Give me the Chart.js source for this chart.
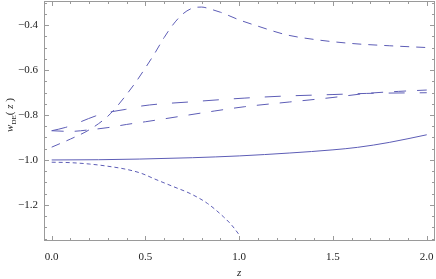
<!DOCTYPE html>
<html>
<head>
<meta charset="utf-8">
<script src="https://cdn.jsdelivr.net/npm/chart.js@4.4.1/dist/chart.umd.min.js"></script>
<style>
  html, body { margin: 0; padding: 0; background: #fff; }
  #wrap { width: 436px; height: 279px; position: relative; }
</style>
</head>
<body>
<div id="wrap"><canvas id="chart"></canvas></div>
<script>
// tick labels
var xTickVals = [0, 0.5, 1, 1.5, 2];
var yTickVals = [-1.2, -1.0, -0.8, -0.6, -0.4];

// solid curve
var zSolid = [0, 0.25, 0.47, 0.75, 1.0, 1.27, 1.5, 1.63, 1.8, 2.0];
var wSolid = [-1.0, -0.999, -0.996, -0.99, -0.982, -0.969, -0.955, -0.944, -0.922, -0.888];

// fine dashes, falling
var zFall = [0, 0.1, 0.2, 0.3, 0.4, 0.48, 0.55, 0.65, 0.74, 0.83, 0.915, 0.96, 1.0];
var wFall = [-1.010, -1.012, -1.018, -1.028, -1.042, -1.060, -1.085, -1.119, -1.150, -1.193, -1.252, -1.29, -1.333];

// medium dashes, with the bump
var zBump = [0, 0.1, 0.2, 0.3, 0.35, 0.4, 0.45, 0.5, 0.55, 0.6, 0.65, 0.7, 0.75, 0.8, 0.85, 0.9, 1.0, 1.1, 1.25, 1.4, 1.6, 1.8, 2.0];
var wBump = [-0.943, -0.907, -0.866, -0.805, -0.76, -0.708, -0.652, -0.59, -0.525, -0.455, -0.395, -0.35, -0.325, -0.32, -0.33, -0.343, -0.377, -0.405, -0.443, -0.464, -0.482, -0.492, -0.50];

// long dashes, upper early
var zLongA = [0, 0.075, 0.155, 0.235, 0.323, 0.395, 0.48, 0.75, 1.026, 1.235, 1.5, 1.68, 2.0];
var wLongA = [-0.870, -0.855, -0.830, -0.804, -0.785, -0.775, -0.76, -0.741, -0.725, -0.716, -0.709, -0.704, -0.701];

// long dashes, lower early
var zLongB = [0, 0.1, 0.2, 0.3, 0.4, 0.5, 0.7, 0.87, 1.03, 1.27, 1.5, 1.68, 1.85, 2.0];
var wLongB = [-0.870, -0.873, -0.866, -0.856, -0.842, -0.830, -0.804, -0.782, -0.763, -0.742, -0.722, -0.704, -0.695, -0.689];

var lineColor = "#5d5db6";
var frameColor = "#9a9a9a";
var textColor = "#222";
var serif = "Liberation Serif, Times New Roman, serif";

Chart.defaults.font.family = serif;

function pts(zs, ws){
  return zs.map(function (z, i) { return { x: z, y: ws[i] }; });
}

function series(zs, ws, dash){
  return {
    data: pts(zs, ws),
    borderColor: lineColor,
    borderWidth: 1,
    borderDash: dash,
    pointRadius: 0,
    fill: false,
    cubicInterpolationMode: "monotone"
  };
}

function fmt(v){
  return v.toFixed(1).replace("-", "\u2212");
}

// frame with inward ticks on all four sides, plus axis titles
var framePlugin = {
  id: "frameTicks",
  afterDraw: function (chart) {
    var ctx = chart.ctx;
    var a = chart.chartArea;
    var xs = chart.scales.x;
    var ys = chart.scales.y;
    var L = Math.round(a.left) + 0.5, R = Math.round(a.right) - 0.5;
    var T = Math.round(a.top) + 0.5, B = Math.round(a.bottom) + 0.5;

    ctx.save();
    ctx.strokeStyle = frameColor;
    ctx.lineWidth = 1;
    ctx.strokeRect(L, T, R - L, B - T);

    ctx.beginPath();
    var i, v, p, len;
    for (i = 0; i <= 20; i++) {
      v = i / 10;
      p = Math.round(xs.getPixelForValue(v)) + 0.5;
      len = (i % 5 === 0) ? 4.5 : 2.5;
      ctx.moveTo(p, B); ctx.lineTo(p, B - len);
      ctx.moveTo(p, T); ctx.lineTo(p, T + len);
    }
    for (i = -27; i <= -6; i++) {
      v = i * 0.05;
      p = Math.round(ys.getPixelForValue(v)) + 0.5;
      len = (i % 4 === 0) ? 4.5 : 2.5;
      ctx.moveTo(L, p); ctx.lineTo(L + len, p);
      ctx.moveTo(R, p); ctx.lineTo(R - len, p);
    }
    ctx.stroke();

    // x title
    ctx.fillStyle = textColor;
    ctx.font = "italic 11px " + serif;
    ctx.textAlign = "center";
    ctx.textBaseline = "middle";
    ctx.fillText("z", xs.getPixelForValue(1), 273);

    // y title: w_DE( z ), rotated
    ctx.translate(9, 115);
    ctx.rotate(-Math.PI / 2);
    ctx.textAlign = "left";
    ctx.textBaseline = "alphabetic";
    var parts = [
      { t: "w", f: "italic 11px " + serif, dy: 0 },
      { t: "DE", f: "7px " + serif, dy: 2.5 },
      { t: "( ", f: "11px " + serif, dy: 0 },
      { t: "z", f: "italic 11px " + serif, dy: 0 },
      { t: " )", f: "11px " + serif, dy: 0 }
    ];
    var total = 0;
    parts.forEach(function (q) { ctx.font = q.f; total += ctx.measureText(q.t).width; });
    var x = -total / 2;
    parts.forEach(function (q) {
      ctx.font = q.f;
      ctx.fillText(q.t, x, 4 + q.dy);
      x += ctx.measureText(q.t).width;
    });
    ctx.restore();
  }
};

var canvas = document.getElementById("chart");
new Chart(canvas, {
  type: "line",
  data: {
    datasets: [
      series(zSolid, wSolid, []),
      series(zFall, wFall, [4, 3]),
      series(zBump, wBump, [9, 7]),
      series(zLongA, wLongA, [16, 15]),
      series(zLongB, wLongB, [12, 11])
    ]
  },
  options: {
    responsive: true,
    maintainAspectRatio: false,
    animation: false,
    events: [],
    layout: { padding: { top: 1, right: 1, left: 0, bottom: 0 } },
    plugins: {
      legend: { display: false },
      tooltip: { enabled: false }
    },
    scales: {
      x: {
        type: "linear",
        min: -0.041,
        max: 2.044,
        grid: { display: false, drawTicks: false },
        border: { display: false },
        afterBuildTicks: function (s) { s.ticks = xTickVals.map(function (v) { return { value: v }; }); },
        afterFit: function (s) { s.height = 39; s.paddingLeft = 0; s.paddingRight = 0; },
        ticks: {
          autoSkip: false,
          maxRotation: 0,
          padding: 11,
          color: textColor,
          font: { family: serif, size: 11 },
          callback: function (v) { return fmt(v); }
        }
      },
      y: {
        type: "linear",
        min: -1.356,
        max: -0.293,
        grid: { display: false, drawTicks: false },
        border: { display: false },
        afterBuildTicks: function (s) { s.ticks = yTickVals.map(function (v) { return { value: v }; }); },
        afterFit: function (s) { s.width = 44; s.paddingTop = 0; s.paddingBottom = 0; },
        ticks: {
          autoSkip: false,
          padding: 6,
          color: textColor,
          font: { family: serif, size: 11 },
          callback: function (v) { return fmt(v); }
        }
      }
    }
  },
  plugins: [framePlugin]
});
</script>
</body>
</html>
